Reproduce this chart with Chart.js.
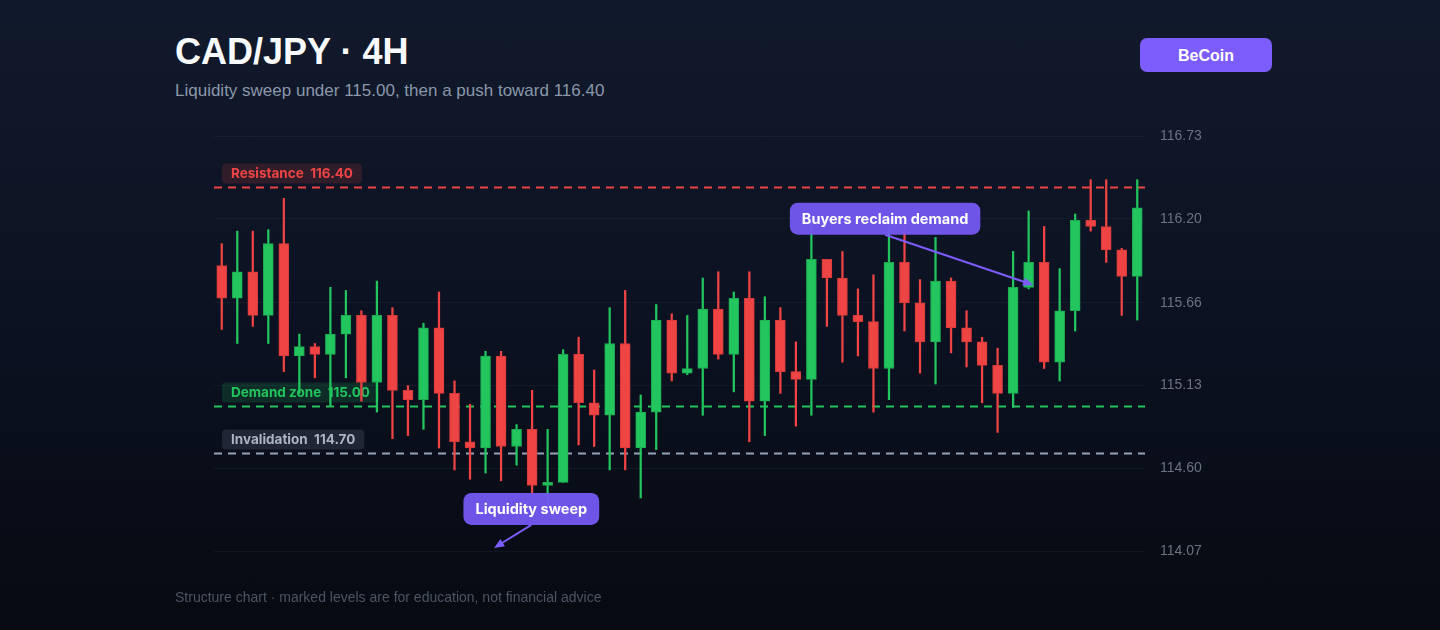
<!DOCTYPE html>
<html>
<head>
<meta charset="utf-8">
<title>CAD/JPY 4H</title>
<script src="https://cdn.jsdelivr.net/npm/chart.js@4.4.1/dist/chart.umd.min.js"></script>
<style>
  html, body { margin: 0; padding: 0; }
  body {
    width: 1440px; height: 630px; overflow: hidden; position: relative;
    background: linear-gradient(180deg, #111a2c 0%, #0b1120 55%, #070a11 100%);
    font-family: "Liberation Sans", Arial, sans-serif;
  }
  #title {
    position: absolute; left: 175px; top: 34px;
    font-size: 36px; line-height: 36px; font-weight: bold; color: #f8fafc;
  }
  #subtitle {
    position: absolute; left: 175px; top: 82px;
    font-size: 17px; line-height: 17px; color: #8b97ab;
  }
  #footer {
    position: absolute; left: 175px; top: 590px;
    font-size: 14px; line-height: 14px; color: #4b5563;
  }
  #brand {
    position: absolute; left: 1140px; top: 38px; width: 132px; height: 34px;
    background: #7c5cfa; border-radius: 7px; color: #fff;
    font-size: 16px; font-weight: bold; line-height: 35px; text-align: center;
  }
  #chart { position: absolute; left: 0; top: 0; }
</style>
</head>
<body>
<div id="title">CAD/JPY · 4H</div>
<div id="subtitle">Liquidity sweep under 115.00, then a push toward 116.40</div>
<div id="brand">BeCoin</div>
<canvas id="chart" width="1440" height="630"></canvas>
<div id="footer">Structure chart · marked levels are for education, not financial advice</div>

<script>
// 60 candles, 4H
const opens  = [115.90,115.69,115.86,115.58,116.04,115.32,115.38,115.33,115.46,115.58,
                115.15,115.58,115.10,115.04,115.50,115.08,114.77,114.73,115.32,114.74,
                114.85,114.49,114.51,115.33,115.02,114.94,115.40,114.73,114.96,115.55,
                115.21,115.24,115.62,115.33,115.69,115.03,115.55,115.22,115.17,115.94,
                115.82,115.58,115.54,115.24,115.92,115.66,115.41,115.80,115.50,115.41,
                115.26,115.08,115.76,115.92,115.28,115.61,116.19,116.15,116.00,115.83];
const highs  = [116.04,116.12,116.12,116.13,116.33,115.46,115.40,115.76,115.74,115.61,
                115.80,115.63,115.13,115.53,115.73,115.16,115.01,115.35,115.35,114.88,
                115.10,114.85,115.36,115.44,115.23,115.63,115.74,115.07,115.65,115.59,
                115.58,115.82,115.86,115.73,115.86,115.70,115.63,115.41,116.17,115.94,
                115.99,115.75,115.84,116.15,116.19,115.81,116.08,115.82,115.61,115.44,
                115.37,115.99,116.25,116.15,115.88,116.23,116.45,116.45,116.01,116.45];
const lows   = [115.49,115.40,115.51,115.40,115.22,115.08,115.18,115.00,115.18,115.03,
                114.96,114.79,114.81,114.85,114.73,114.59,114.53,114.57,114.52,114.62,
                114.44,114.36,114.51,114.75,114.74,114.59,114.59,114.41,114.72,115.16,
                115.20,114.94,115.30,115.09,114.77,114.81,115.08,114.87,114.94,115.51,
                115.28,115.32,114.96,115.04,115.48,115.21,115.14,115.34,115.25,115.02,
                114.83,114.99,115.75,115.24,115.16,115.48,116.12,115.92,115.58,115.55];
const closes = [115.69,115.86,115.58,116.04,115.32,115.38,115.33,115.46,115.58,115.15,
                115.58,115.10,115.04,115.50,115.08,114.77,114.73,115.32,114.74,114.85,
                114.49,114.51,115.33,115.02,114.94,115.40,114.73,114.96,115.55,115.21,
                115.24,115.62,115.33,115.69,115.03,115.55,115.22,115.17,115.94,115.82,
                115.58,115.54,115.24,115.92,115.66,115.41,115.80,115.50,115.41,115.26,
                115.08,115.76,115.92,115.28,115.61,116.19,116.15,116.00,115.83,116.27];

const tickValues = [114.07, 114.60, 115.13, 115.66, 116.20, 116.73];

const levelNames  = ['Resistance', 'Demand zone', 'Invalidation'];
const levelValues = [116.40, 115.00, 114.70];

const calloutTexts = ['Liquidity sweep', 'Buyers reclaim demand'];

// styling / placement (not data)
const UP = '#22c55e', DOWN = '#ef4444';
const LABEL_FONT = '"Inter", "Open Sans", "Liberation Sans", sans-serif';
const levelStyle = [
  { line: '#ef4444', text: '#ef4444', bg: 'rgba(239,68,68,0.16)' },
  { line: '#22c55e', text: '#22c55e', bg: 'rgba(34,197,94,0.16)' },
  { line: '#94a3b8', text: '#aab4c3', bg: 'rgba(148,163,184,0.16)' }
];
// label centre and arrow tip in (candle index, price)
const calloutPos = [
  { at: [19.95, 114.34], tip: [17.55, 114.09] },
  { at: [42.75, 116.20], tip: [52.3, 115.775] }
];

const labels = opens.map((_, i) => 'C' + (i + 1));
const isUp = opens.map((o, i) => closes[i] >= o);
const bodyColors = isUp.map(u => u ? UP : DOWN);
const bodyBorders = isUp.map(u => u ? '#1ea852' : '#d63a3a');

function roundRect(ctx, x, y, w, h, r) {
  ctx.beginPath();
  ctx.moveTo(x + r, y);
  ctx.arcTo(x + w, y, x + w, y + h, r);
  ctx.arcTo(x + w, y + h, x, y + h, r);
  ctx.arcTo(x, y + h, x, y, r);
  ctx.arcTo(x, y, x + w, y, r);
  ctx.closePath();
}

const overlay = {
  id: 'overlay',
  beforeDatasetsDraw(chart) {
    const { ctx, chartArea, scales: { y } } = chart;
    ctx.save();
    levelValues.forEach((v, i) => {
      const py = Math.round(y.getPixelForValue(v)) + 0.5;
      const st = levelStyle[i];
      ctx.strokeStyle = st.line;
      ctx.lineWidth = 2;
      ctx.setLineDash([8, 6]);
      ctx.beginPath();
      ctx.moveTo(chartArea.left, py);
      ctx.lineTo(chartArea.right, py);
      ctx.stroke();
      ctx.setLineDash([]);

      const txt = levelNames[i] + '  ' + v.toFixed(2);
      ctx.font = 'bold 13.5px ' + LABEL_FONT;
      const w = ctx.measureText(txt).width + 18;
      const bx = chartArea.left + 8, by = py - 24;
      ctx.fillStyle = st.bg;
      roundRect(ctx, bx, by, w, 20, 4);
      ctx.fill();
      ctx.fillStyle = st.text;
      ctx.textBaseline = 'middle';
      ctx.textAlign = 'left';
      ctx.fillText(txt, bx + 9, by + 10.5);
    });
    ctx.restore();
  },
  afterDatasetsDraw(chart) {
    const { ctx, scales: { x, y } } = chart;
    ctx.save();
    calloutTexts.forEach((txt, i) => {
      const p = calloutPos[i];
      const cx = x.getPixelForValue(p.at[0]);
      const cy = y.getPixelForValue(p.at[1]);
      ctx.font = 'bold 14.5px ' + LABEL_FONT;
      const w = ctx.measureText(txt).width + 24, h = 32;
      const bx = cx - w / 2, by = cy - h / 2;

      // arrow from bottom of the box to the tip
      const tx = x.getPixelForValue(p.tip[0]);
      const ty = y.getPixelForValue(p.tip[1]);
      const sx = cx, sy = by + h;
      const ang = Math.atan2(ty - sy, tx - sx);
      ctx.strokeStyle = '#7c5cfa';
      ctx.fillStyle = '#7c5cfa';
      ctx.lineWidth = 2;
      ctx.beginPath();
      ctx.moveTo(sx, sy);
      ctx.lineTo(tx - 6 * Math.cos(ang), ty - 6 * Math.sin(ang));
      ctx.stroke();
      ctx.beginPath();
      ctx.moveTo(tx, ty);
      ctx.lineTo(tx - 11 * Math.cos(ang - 0.4), ty - 11 * Math.sin(ang - 0.4));
      ctx.lineTo(tx - 11 * Math.cos(ang + 0.4), ty - 11 * Math.sin(ang + 0.4));
      ctx.closePath();
      ctx.fill();

      ctx.globalAlpha = 0.96;
      ctx.fillStyle = '#7457f0';
      roundRect(ctx, bx, by, w, h, 8);
      ctx.fill();
      ctx.globalAlpha = 1;
      ctx.fillStyle = '#ffffff';
      ctx.textAlign = 'center';
      ctx.textBaseline = 'middle';
      ctx.fillText(txt, cx, cy + 1);
    });
    ctx.restore();
  }
};

new Chart('chart', {
  type: 'bar',
  data: {
    labels: labels,
    datasets: [
      {
        label: 'body',
        data: opens.map((o, i) => [o, closes[i]]),
        backgroundColor: bodyColors,
        borderColor: bodyBorders,
        borderWidth: 1,
        borderSkipped: false,
        barThickness: 10,
        order: 0
      },
      {
        label: 'wick',
        data: lows.map((l, i) => [l, highs[i]]),
        backgroundColor: bodyColors,
        borderWidth: 0,
        barThickness: 1.6,
        order: 1
      }
    ]
  },
  options: {
    responsive: false,
    animation: false,
    layout: { padding: { left: 214, right: 215, top: 136, bottom: 79 } },
    plugins: { legend: { display: false }, tooltip: { enabled: false } },
    datasets: { bar: { grouped: false } },
    scales: {
      x: { display: false, offset: true },
      y: {
        position: 'right',
        min: 114.07,
        max: 116.73,
        afterBuildTicks: scale => { scale.ticks = tickValues.map(v => ({ value: v })); },
        afterFit: scale => { scale.width = 80; },
        border: { display: false },
        grid: { color: 'rgba(148,163,184,0.07)', drawTicks: false, lineWidth: 1 },
        ticks: {
          padding: 15,
          color: '#6b7280',
          font: { family: '"Liberation Sans", Arial, sans-serif', size: 14 },
          callback: v => Number(v).toFixed(2)
        }
      }
    }
  },
  plugins: [overlay]
});
</script>
</body>
</html>
